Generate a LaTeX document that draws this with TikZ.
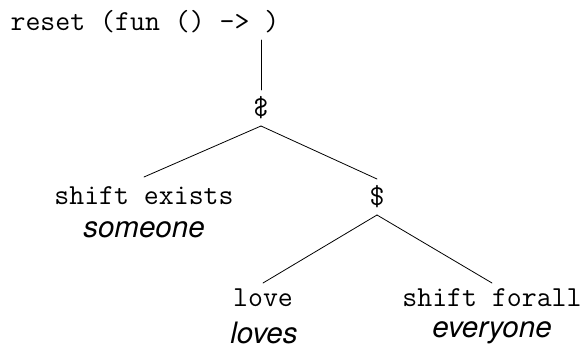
\documentclass[tikz,border=0pt]{standalone}
\usepackage{fontspec}
\usepackage{graphicx}
\newfontfamily\heros{TeX Gyre Heros}
\tikzset{
  tt/.style={font=\fontsize{29}{33}\selectfont\ttfamily, inner sep=0pt, outer sep=0pt, minimum height=#1},
  tt/.default=36pt,
  gloss/.style={font=\fontsize{29.5}{33}\selectfont\heros\itshape, inner sep=0pt, outer sep=0pt},
  edge/.style={line width=0.8pt, line cap=round}
}
\begin{document}
\begin{tikzpicture}[x=1pt,y=-1pt]
\useasboundingbox (0,0) rectangle (587,350);
\node[tt] (root) at (145,22) {reset (fun () -> )};
\node[tt] (rb) at (261,108) {\reflectbox{\$}};
\node[tt=38pt] (se) at (144,196) {shift exists};
\node[gloss] (someone) at (144,230) {someone};
\node[tt] (dol) at (377,197) {\$};
\node[tt=30pt] (love) at (263,298) {love};
\node[gloss] (loves) at (264,333) {loves};
\node[tt=30pt] (sf) at (492,298) {shift forall};
\node[gloss] (everyone) at (492,333) {everyone};
\draw[edge] (rb.north |- root.south) -- (rb.north);
\draw[edge] (rb.south) -- (se.north);
\draw[edge] (rb.south) -- (dol.north);
\draw[edge] (dol.south) -- (love.north);
\draw[edge] (dol.south) -- (sf.north);
\end{tikzpicture}
\end{document}
